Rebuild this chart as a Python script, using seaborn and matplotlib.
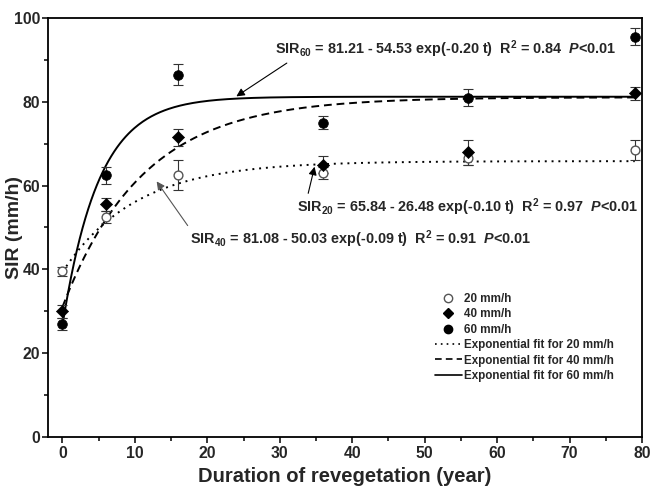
import numpy as np
import pandas as pd
import matplotlib
matplotlib.use("Agg")
import matplotlib.pyplot as plt
from matplotlib.ticker import MultipleLocator
from matplotlib.lines import Line2D
import seaborn as sns

# ---- data ----
years = [0, 6, 16, 36, 56, 79]
sir20 = [39.5, 52.5, 62.5, 63.0, 66.5, 68.5]
err20 = [1.0, 1.5, 3.5, 1.5, 1.5, 2.5]
sir40 = [30.0, 55.5, 71.5, 65.0, 68.0, 82.0]
err40 = [1.5, 1.5, 2.0, 2.0, 3.0, 1.5]
sir60 = [27.0, 62.5, 86.5, 75.0, 81.0, 95.5]
err60 = [1.5, 2.0, 2.5, 1.5, 2.0, 2.0]

# fit parameters a - b*exp(-k t)
fit20 = [65.84, 26.48, 0.10]
fit40 = [81.08, 50.03, 0.09]
fit60 = [81.21, 54.53, 0.20]

series_labels = ["20 mm/h", "40 mm/h", "60 mm/h"]
fit_labels = ["Exponential fit for 20 mm/h", "Exponential fit for 40 mm/h",
              "Exponential fit for 60 mm/h"]

sns.set_style("ticks")
plt.rcParams["font.family"] = ["Liberation Sans", "DejaVu Sans"]
plt.rcParams["font.weight"] = "bold"
plt.rcParams["mathtext.fontset"] = "custom"
plt.rcParams["mathtext.rm"] = "Liberation Sans:bold"
plt.rcParams["mathtext.it"] = "Liberation Sans:italic:bold"
plt.rcParams["mathtext.bf"] = "Liberation Sans:bold"

fig = plt.figure(figsize=(6.52, 4.94), dpi=100)
ax = fig.add_axes([48 / 652, 57 / 494, 594 / 652, 419 / 494])

# fit curves
tt = np.linspace(0, 79, 400)
styles = [(0, (1, 2.5)), (0, (4, 2.5)), "-"]
for p, ls in zip([fit20, fit40, fit60], styles):
    df = pd.DataFrame({"t": tt, "v": p[0] - p[1] * np.exp(-p[2] * tt)})
    sns.lineplot(data=df, x="t", y="v", ax=ax, color="black", linestyle=ls,
                 linewidth=1.4, zorder=2)

# points with error bars
mk = [dict(marker="o", facecolor="white", edgecolor="#555555", s=40, linewidth=1.0),
      dict(marker="D", color="black", s=38, edgecolor="black"),
      dict(marker="o", color="black", s=48, edgecolor="black")]
for vals, errs, m in zip([sir20, sir40, sir60], [err20, err40, err60], mk):
    ax.errorbar(years, vals, yerr=errs, fmt="none", ecolor="#333333",
                elinewidth=0.8, capsize=3.5, capthick=0.8, zorder=3)
    df = pd.DataFrame({"t": years, "v": vals})
    sns.scatterplot(data=df, x="t", y="v", ax=ax, zorder=4, **m)

ax.set_xlim(-2, 80)
ax.set_ylim(0, 100)
ax.xaxis.set_major_locator(MultipleLocator(10))
ax.xaxis.set_minor_locator(MultipleLocator(5))
ax.yaxis.set_major_locator(MultipleLocator(20))
ax.yaxis.set_minor_locator(MultipleLocator(10))
ax.tick_params(which="both", direction="out", width=1.3, labelsize=11.3,
               top=False, right=False)
ax.tick_params(which="major", length=4.5, pad=2)
ax.tick_params(which="minor", length=3)
ax.tick_params(axis="y", which="major", pad=1)
for lab in ax.get_xticklabels() + ax.get_yticklabels():
    lab.set_fontweight("bold")
for s in ax.spines.values():
    s.set_visible(True)
    s.set_linewidth(1.3)
    s.set_color("black")
ax.set_xlabel("Duration of revegetation (year)", fontsize=14.5, fontweight="bold", labelpad=4)
ax.set_ylabel("SIR (mm/h)", fontsize=14, fontweight="bold")
ax.yaxis.set_label_coords(-0.042, 0.5)

# annotations
fs = 10.4
ax.annotate(r"SIR$_{60}$ = 81.21 - 54.53 exp(-0.20 t)  R$^{2}$ = 0.84  $P$<0.01",
            xy=(24, 81.3), xytext=(29.3, 92.6), fontsize=fs, fontweight="bold",
            va="center", ha="left",
            arrowprops=dict(arrowstyle="-|>", color="black", lw=0.8,
                            shrinkA=0, shrinkB=0, mutation_scale=12,
                            relpos=(0.05, 0.0)))
ax.annotate(r"SIR$_{20}$ = 65.84 - 26.48 exp(-0.10 t)  R$^{2}$ = 0.97  $P$<0.01",
            xy=(34.8, 64.5), xytext=(32.4, 54.8), fontsize=fs, fontweight="bold",
            va="center", ha="left",
            arrowprops=dict(arrowstyle="-|>", color="black", lw=0.8,
                            shrinkA=0, shrinkB=0, mutation_scale=12,
                            relpos=(0.03, 1.0)))
ax.annotate(r"SIR$_{40}$ = 81.08 - 50.03 exp(-0.09 t)  R$^{2}$ = 0.91  $P$<0.01",
            xy=(13, 61), xytext=(17.6, 47.1), fontsize=fs, fontweight="bold",
            va="center", ha="left",
            arrowprops=dict(arrowstyle="-|>", color="#555555", lw=0.8,
                            shrinkA=0, shrinkB=0, mutation_scale=12,
                            relpos=(0.0, 1.0)))

# legend
handles = [Line2D([], [], ls="none", marker="o", mfc="white", mec="#555555", ms=6),
           Line2D([], [], ls="none", marker="D", color="black", ms=5.5),
           Line2D([], [], ls="none", marker="o", color="black", ms=6)]
handles += [Line2D([], [], color="black", ls=s, lw=1.2) for s in styles]
leg = ax.legend(handles, series_labels + fit_labels, loc="upper left",
                bbox_to_anchor=(435 / 652, 1 - 293 / 494), bbox_transform=fig.transFigure,
                frameon=False, fontsize=8.4, handlelength=2.3, handletextpad=0.15,
                labelspacing=0.29, borderaxespad=0, borderpad=0)
for t in leg.get_texts():
    t.set_fontweight("bold")

fig.savefig("out.png", dpi=100)
